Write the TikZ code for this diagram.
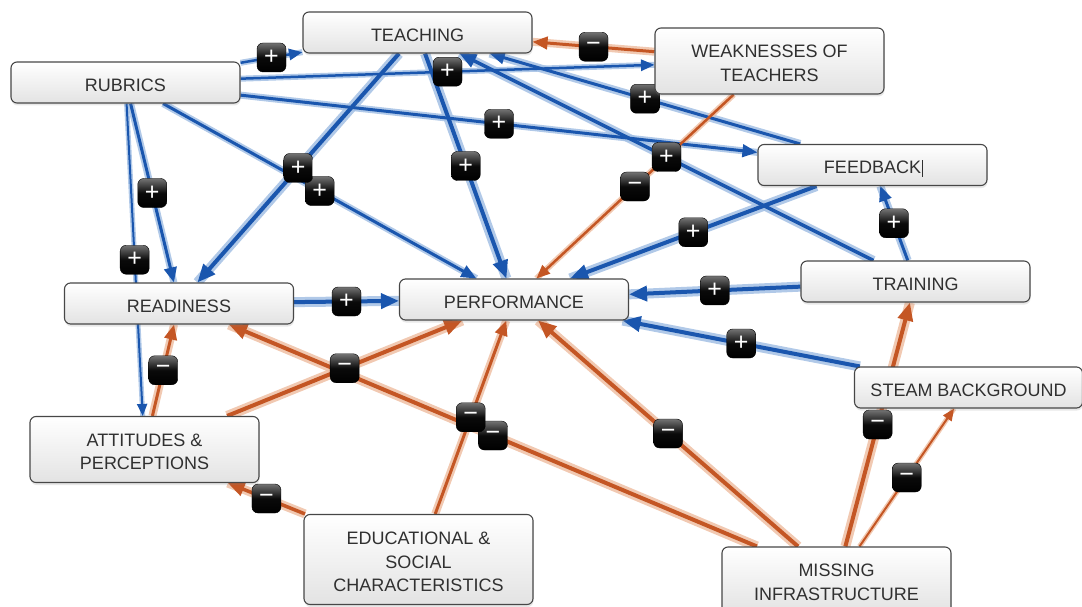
\documentclass[tikz,border=0pt]{standalone}
\usepackage{fontspec}
\setmainfont{Liberation Sans}
\usetikzlibrary{arrows.meta,shadows}
\definecolor{bmain}{HTML}{1A56AE}
\definecolor{bhalo}{HTML}{A3C0E4}
\definecolor{omain}{HTML}{C45624}
\definecolor{ohalo}{HTML}{EFC0A4}
\definecolor{boxtext}{HTML}{303030}
\pgfdeclarelayer{halo}
\pgfdeclarelayer{lines}
\pgfdeclarelayer{badges}
\pgfsetlayers{halo,lines,badges,main}
\tikzset{
  box/.style={rectangle, rounded corners=6pt, draw=black!72, line width=1.1pt,
    minimum width=229pt, minimum height=41pt, inner sep=0pt,
    font=\fontsize{18}{23.8}\selectfont, text=boxtext,
    top color=white, bottom color=black!11,
    drop shadow={shadow xshift=0.5pt, shadow yshift=-2.5pt, opacity=0.18}},
  badge/.style={rectangle, rounded corners=6pt, minimum size=29pt, inner sep=0pt,
    top color=black!55, bottom color=black, middle color=black!96, draw=black,
    text=white, font=\fontsize{25}{25}\selectfont, midway},
  poshalo/.style={draw=bhalo, opacity=0.85},
  neghalo/.style={draw=ohalo, opacity=0.85},
  posline/.style={draw=bmain, -{Triangle[length=6pt 3, width=5pt 2.5]}},
  negline/.style={draw=omain, -{Triangle[length=6pt 3, width=5pt 2.5]}},
}
\newcommand{\bx}[1]{\raisebox{-3.8pt}[\height][\depth]{\begin{tabular}{@{}c@{}}#1\end{tabular}}}
\newcommand{\lnk}[6]{%
  \begin{pgfonlayer}{halo}\draw[#1halo, line width=#3] (#4) -- (#5);\end{pgfonlayer}
  \begin{pgfonlayer}{lines}\draw[#1line, line width=#2] (#4) -- (#5);\end{pgfonlayer}
  \begin{pgfonlayer}{badges}\path (#4) -- (#5) node[badge]{#6};\end{pgfonlayer}}
\newcommand{\pl}{+}
\newcommand{\mn}{−}
\begin{document}
\begin{tikzpicture}[x=1pt,y=1pt]
\useasboundingbox (0,0) rectangle (1082,-607);
% nodes
\node[box] (teach) at (417.5,-32.5) {\bx{TEACHING}};
\node[box] (rub) at (125.5,-82.5) {\bx{RUBRICS}};
\node[box, minimum height=66pt] (weak) at (769.5,-61) {\bx{WEAKNESSES OF\\TEACHERS}};
\node[box] (feed) at (872.5,-165) {\bx{FEEDBACK\rlap{\hspace{1pt}\rule[-3pt]{0.8pt}{17pt}}}};
\node[box] (train) at (915.5,-281.5) {\bx{TRAINING}};
\node[box] (ready) at (179,-303.5) {\bx{READINESS}};
\node[box] (perf) at (514,-299.5) {\bx{PERFORMANCE}};
\node[box, minimum width=228pt] (steam) at (968.5,-387.5) {\bx{STEAM BACKGROUND}};
\node[box, minimum height=66pt] (att) at (144.5,-449.5) {\bx{ATTITUDES \&\\PERCEPTIONS}};
\node[box, minimum height=90pt] (edu) at (418.5,-559.5) {\bx{EDUCATIONAL \&\\SOCIAL\\CHARACTERISTICS}};
\node[box, minimum height=66pt] (miss) at (836.5,-580) {\bx{MISSING\\INFRASTRUCTURE}};
% positive links
\lnk{pos}{2.5pt}{6pt}{rub}{teach}{\pl}
\lnk{pos}{2.5pt}{6pt}{rub}{weak}{\pl}
\lnk{pos}{3pt}{7pt}{rub}{feed}{\pl}
\lnk{pos}{2pt}{5pt}{rub}{att}{\pl}
\lnk{pos}{3pt}{7pt}{rub}{ready}{\pl}
\lnk{pos}{3pt}{7pt}{rub}{perf}{\pl}
\lnk{pos}{4pt}{10pt}{teach}{ready}{\pl}
\lnk{pos}{4pt}{10pt}{teach}{perf}{\pl}
\lnk{pos}{3pt}{8pt}{feed}{teach}{\pl}
\lnk{pos}{3.5pt}{9pt}{train}{teach}{\pl}
\lnk{pos}{4pt}{10pt}{ready}{perf}{\pl}
\lnk{pos}{4pt}{10pt}{feed}{perf}{\pl}
\lnk{pos}{3pt}{8pt}{train}{feed}{\pl}
\lnk{pos}{4pt}{10pt}{train}{perf}{\pl}
\lnk{pos}{4pt}{10pt}{steam}{perf}{\pl}
% negative links
\lnk{neg}{3pt}{8pt}{weak}{teach}{\mn}
\lnk{neg}{2.5pt}{6pt}{weak}{perf}{\mn}
\lnk{neg}{3pt}{8pt}{att}{ready}{\mn}
\lnk{neg}{4pt}{10pt}{att}{perf}{\mn}
\lnk{neg}{4pt}{10pt}{miss}{ready}{\mn}
\lnk{neg}{3pt}{8pt}{edu}{perf}{\mn}
\lnk{neg}{3.5pt}{9pt}{edu}{att}{\mn}
\lnk{neg}{4pt}{10pt}{miss}{perf}{\mn}
\lnk{neg}{4pt}{10pt}{miss}{train}{\mn}
\lnk{neg}{2pt}{5pt}{miss}{steam}{\mn}
\end{tikzpicture}
\end{document}
